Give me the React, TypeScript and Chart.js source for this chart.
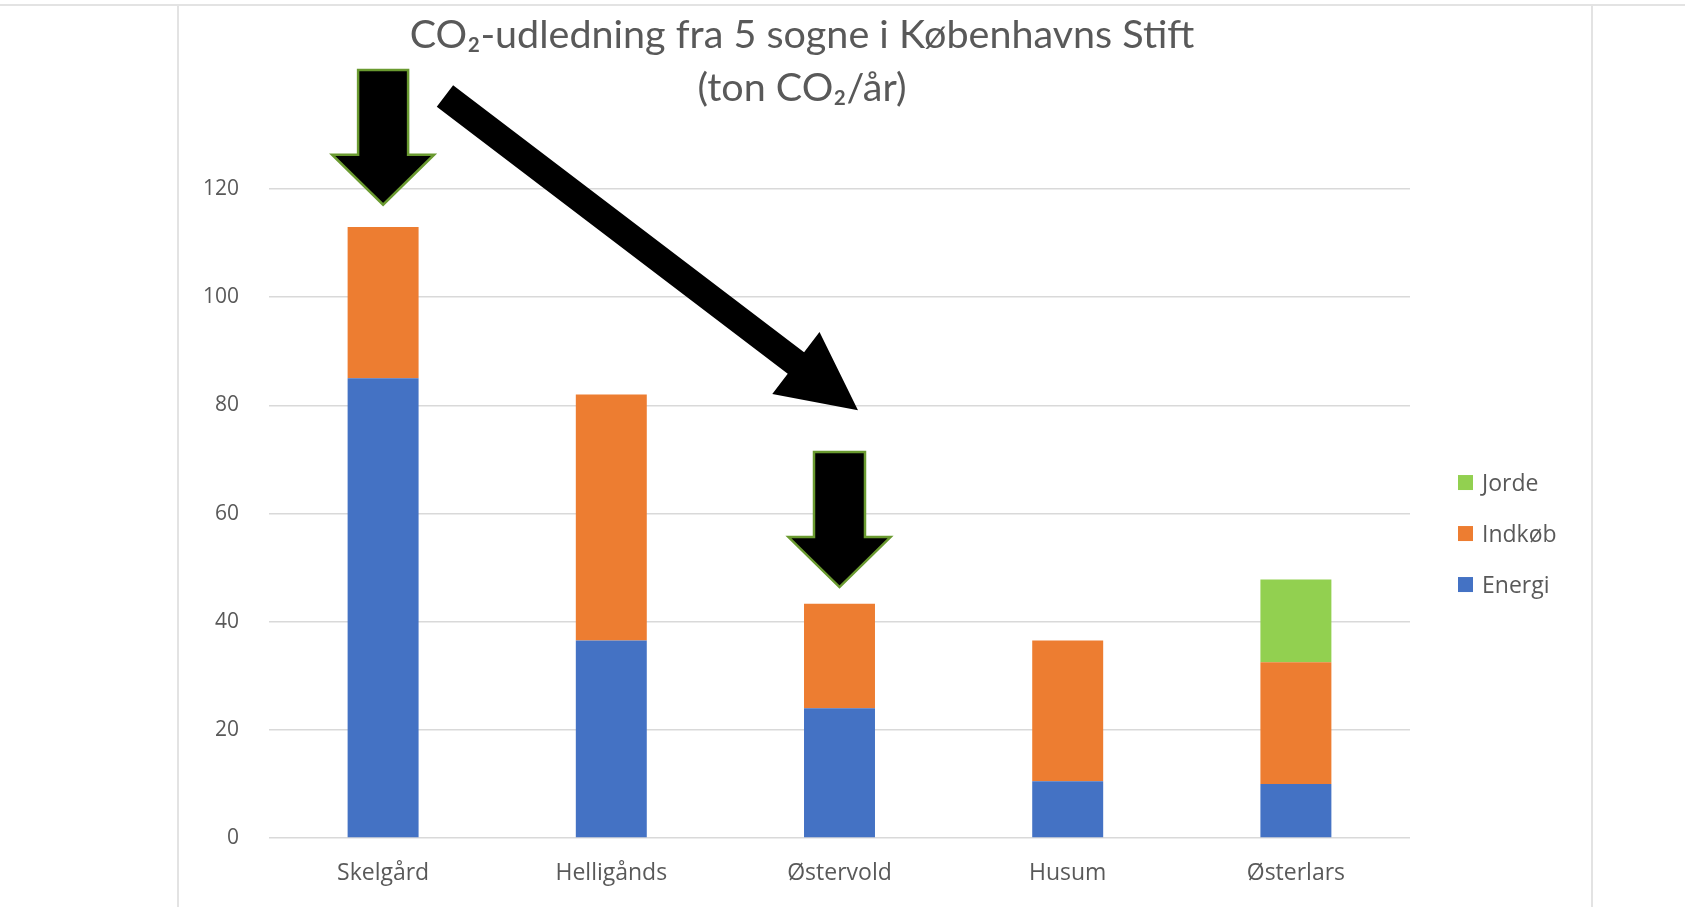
import React, { useEffect, useRef } from "react";
import { Chart, registerables } from "chart.js";

Chart.register(...registerables);

// ---- data ----
const categories = ["Skelgård", "Helligånds", "Østervold", "Husum", "Østerlars"];
const energi = [85, 36.5, 24, 10.5, 10];
const indkob = [28, 45.5, 19.3, 26, 22.5];
const jorde = [null, null, null, null, 15.3];
const seriesNames = ["Energi", "Indkøb", "Jorde"];
const seriesColors = ["#4472C4", "#ED7D31", "#92D050"];
const yMin = 0;
const yMax = 120;
const yStep = 20;
const titleLines = ["CO₂-udledning fra 5 sogne i Københavns Stift", "(ton CO₂/år)"];

// ---- annotation arrows (category index, value) ----
const arrows = [
  { from: [0, 142.0], to: [0, 117.1], shaft: 50, headW: 102, headL: 50, outline: "#6a9a30" },
  { from: [0.271, 137.2], to: [2.081, 79.1], shaft: 27, headW: 78, headL: 78, outline: null },
  { from: [2, 71.4], to: [2, 46.4], shaft: 51, headW: 102, headL: 50, outline: "#6a9a30" },
];

const TEXT = "#595959";
const GRID = "#d9d9d9";

const framePlugin = {
  id: "frame",
  beforeDraw(chart: any) {
    const { ctx, chartArea } = chart;
    ctx.save();
    ctx.fillStyle = "#ffffff";
    ctx.fillRect(0, 0, chart.width, chart.height);
    ctx.strokeStyle = "#e3e3e3";
    ctx.lineWidth = 2;
    const l = chartArea.left - 91;
    const r = chartArea.right + 182;
    ctx.beginPath();
    ctx.moveTo(0, 5);
    ctx.lineTo(chart.width, 5);
    ctx.moveTo(l, 5);
    ctx.lineTo(l, chart.height);
    ctx.moveTo(r, 5);
    ctx.lineTo(r, chart.height);
    ctx.stroke();
    ctx.restore();
  },
};

const legendPlugin = {
  id: "sideLegend",
  afterDraw(chart: any) {
    const { ctx, chartArea } = chart;
    const ds = chart.data.datasets;
    const items = ds.map((d: any) => ({ label: d.label, color: d.backgroundColor })).reverse();
    const cy = (chartArea.top + chartArea.bottom) / 2 + 20.5;
    const gap = 51;
    const x0 = chartArea.right + 48;
    ctx.save();
    ctx.font = "23px 'Open Sans', sans-serif";
    ctx.textBaseline = "middle";
    ctx.textAlign = "left";
    items.forEach((it: any, i: number) => {
      const y = cy + (i - (items.length - 1) / 2) * gap;
      ctx.fillStyle = it.color;
      ctx.fillRect(x0, y - 8, 15, 15);
      ctx.fillStyle = TEXT;
      ctx.fillText(it.label, x0 + 24, y + 1);
    });
    ctx.restore();
  },
};

const arrowPlugin = {
  id: "arrows",
  afterDraw(chart: any) {
    const { ctx } = chart;
    const xs = chart.scales.x;
    const ys = chart.scales.y;
    ctx.save();
    arrows.forEach((a) => {
      const x1 = xs.getPixelForValue(a.from[0]);
      const y1 = ys.getPixelForValue(a.from[1]);
      const x2 = xs.getPixelForValue(a.to[0]);
      const y2 = ys.getPixelForValue(a.to[1]);
      const len = Math.hypot(x2 - x1, y2 - y1);
      const dx = (x2 - x1) / len;
      const dy = (y2 - y1) / len;
      const nx = -dy;
      const ny = dx;
      const bx = x2 - dx * a.headL;
      const by = y2 - dy * a.headL;
      const s = a.shaft / 2;
      const h = a.headW / 2;
      ctx.beginPath();
      ctx.moveTo(x1 + nx * s, y1 + ny * s);
      ctx.lineTo(bx + nx * s, by + ny * s);
      ctx.lineTo(bx + nx * h, by + ny * h);
      ctx.lineTo(x2, y2);
      ctx.lineTo(bx - nx * h, by - ny * h);
      ctx.lineTo(bx - nx * s, by - ny * s);
      ctx.lineTo(x1 - nx * s, y1 - ny * s);
      ctx.closePath();
      ctx.fillStyle = "#000000";
      ctx.fill();
      if (a.outline) {
        ctx.strokeStyle = a.outline;
        ctx.lineWidth = 2.5;
        ctx.lineJoin = "miter";
        ctx.stroke();
      }
    });
    ctx.restore();
  },
};

export default function App() {
  const ref = useRef<HTMLCanvasElement | null>(null);

  useEffect(() => {
    if (!ref.current) return;
    Chart.defaults.font.family = "'Open Sans', sans-serif";
    const chart = new Chart(ref.current, {
      type: "bar",
      data: {
        labels: categories,
        datasets: [
          { label: seriesNames[0], data: energi, backgroundColor: seriesColors[0] },
          { label: seriesNames[1], data: indkob, backgroundColor: seriesColors[1] },
          { label: seriesNames[2], data: jorde as any, backgroundColor: seriesColors[2] },
        ],
      },
      options: {
        animation: false,
        responsive: true,
        maintainAspectRatio: false,
        datasets: { bar: { barPercentage: 0.311, categoryPercentage: 1 } },
        layout: { padding: { left: 194, right: 275, top: 0, bottom: 0 } },
        plugins: {
          legend: { display: false },
          tooltip: { enabled: false },
          title: {
            display: true,
            text: titleLines,
            color: TEXT,
            font: { family: "Lato, 'Open Sans', sans-serif", size: 39.5, weight: "normal", lineHeight: 1.33 },
            padding: { top: 9, bottom: 75 },
          },
        },
        scales: {
          x: {
            stacked: true,
            grid: { display: false, drawTicks: false },
            border: { display: false },
            ticks: { color: TEXT, font: { size: 23 }, padding: 22 },
            afterFit: (s: any) => {
              s.height = 69;
            },
          },
          y: {
            stacked: true,
            min: yMin,
            max: yMax,
            ticks: { stepSize: yStep, color: TEXT, font: { size: 21 }, padding: 30 },
            grid: { color: GRID, lineWidth: 1.5, drawTicks: false },
            border: { display: false },
            afterFit: (s: any) => {
              s.width = 75;
            },
          },
        },
      },
      plugins: [framePlugin, legendPlugin, arrowPlugin],
    });
    return () => chart.destroy();
  }, []);

  return (
    <div style={{ position: "fixed", left: 0, top: 0, width: "1685px", height: "907px", background: "#fff" }}>
      <canvas ref={ref} />
    </div>
  );
}
